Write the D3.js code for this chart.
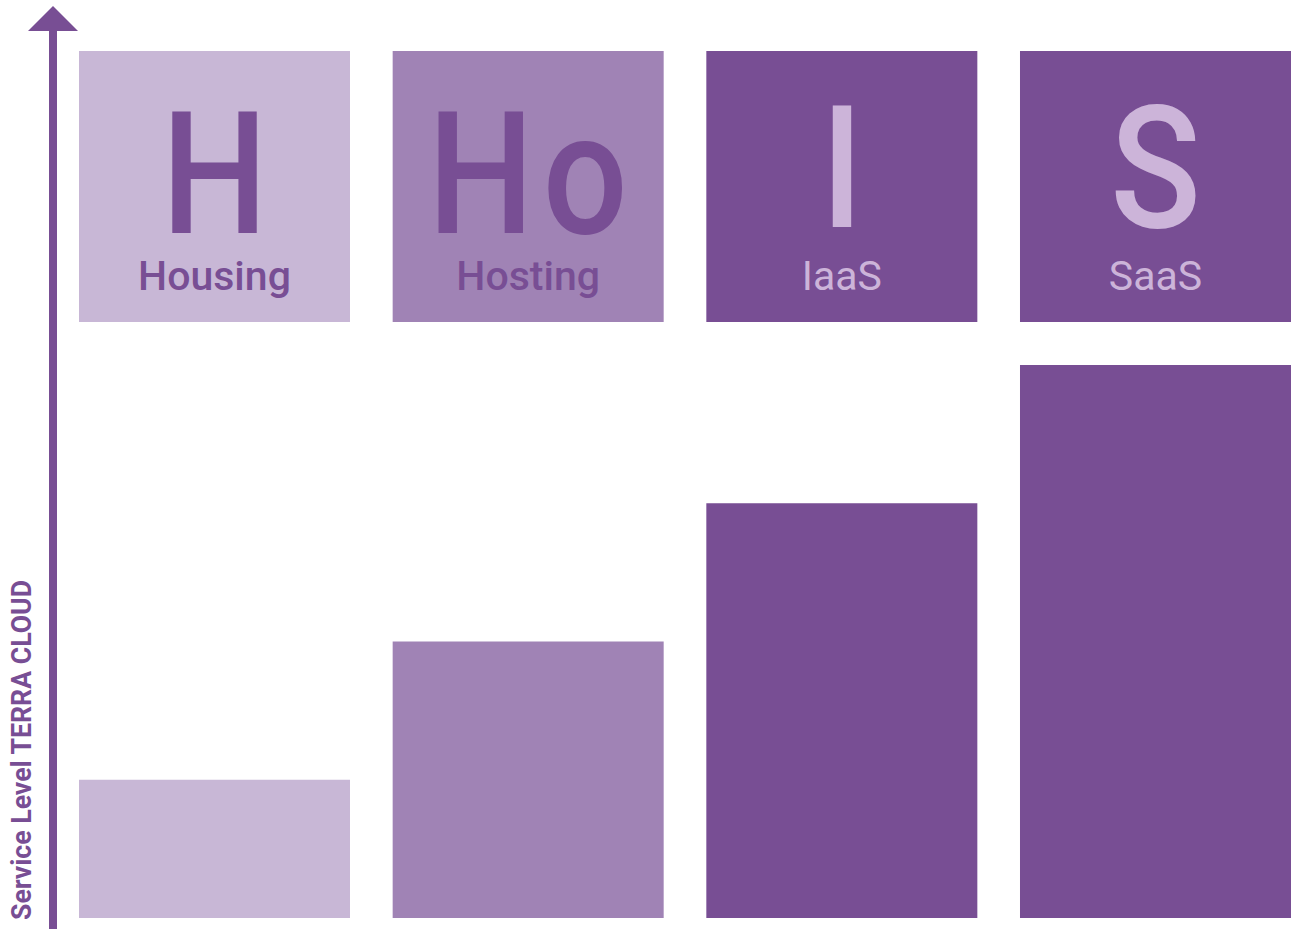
<!DOCTYPE html>
<html>
<head>
<meta charset="utf-8">
<script src="https://cdn.jsdelivr.net/npm/d3@7"></script>
<style>
  html, body { margin: 0; padding: 0; background: #fff; }
  svg { display: block; font-family: Roboto, "Open Sans", sans-serif; }
</style>
</head>
<body>
<svg id="chart"></svg>
<script>
const categories = ['Housing', 'Hosting', 'IaaS', 'SaaS'];
const initials = ['H', 'Ho', 'I', 'S'];
const serviceLevel = [1, 2, 3, 4];
const shades = ['light', 'medium', 'dark', 'dark'];
const axisTitle = ['Service Level ', 'TERRA CLOUD'];

const width = 1291;
const height = 929;
const margin = {top: 51, right: 0, bottom: 11, left: 79};
const tileSize = 271;

const palette = {light: '#c8b7d6', medium: '#a083b5', dark: '#784e94'};
const textColor = {light: '#784e94', medium: '#784e94', dark: '#ccb4d9'};

const data = categories.map((c, i) => ({
  name: c,
  initial: initials[i],
  value: serviceLevel[i],
  shade: shades[i]
}));

const svg = d3.select('#chart')
  .attr('width', width)
  .attr('height', height)
  .attr('viewBox', [0, 0, width, height]);

const x = d3.scaleBand()
  .domain(categories)
  .range([margin.left, width - margin.right])
  .paddingInner(0.136)
  .paddingOuter(0);

const y = d3.scaleLinear()
  .domain([0, 4])
  .range([height - margin.bottom, 365]);

// axis arrow
const axisX = 53;
const arrow = svg.append('g').attr('fill', palette.dark);
arrow.append('line')
  .attr('x1', axisX).attr('x2', axisX)
  .attr('y1', height).attr('y2', 30)
  .attr('stroke', palette.dark)
  .attr('stroke-width', 8);
arrow.append('path')
  .attr('d', d3.line()([[axisX, 6], [axisX + 25, 31], [axisX - 25, 31]]) + 'Z');

const title = svg.append('text')
  .attr('transform', `translate(31,${height - 9}) rotate(-90)`)
  .attr('fill', palette.dark)
  .attr('font-size', 28)
  .attr('font-weight', 700)
  .attr('textLength', 340)
  .attr('lengthAdjust', 'spacingAndGlyphs');
title.selectAll('tspan')
  .data(axisTitle)
  .join('tspan')
  .text(d => d);

// tiles
const tiles = svg.append('g')
  .selectAll('g')
  .data(data)
  .join('g')
  .attr('transform', d => `translate(${x(d.name)},${margin.top})`);

tiles.append('rect')
  .attr('width', x.bandwidth())
  .attr('height', tileSize)
  .attr('fill', d => palette[d.shade]);

// DIN-like narrow initials: squeeze Roboto a little
tiles.append('text')
  .attr('transform', d => `translate(${x.bandwidth() / 2 + (d.initial.length > 1 ? 4 : 0)},${d.shade === 'dark' ? 176 : 182}) scale(0.88,1)`)
  .attr('text-anchor', 'middle')
  .attr('font-size', 170)
  .attr('font-weight', 500)
  .attr('fill', d => textColor[d.shade])
  .style('letter-spacing', d => d.initial.length > 1 ? '10px' : '0px')
  .text(d => d.initial);

tiles.append('text')
  .attr('x', x.bandwidth() / 2)
  .attr('y', 239)
  .attr('text-anchor', 'middle')
  .attr('font-size', 41)
  .attr('font-weight', d => d.shade === 'dark' ? 400 : 500)
  .attr('fill', d => textColor[d.shade])
  .text(d => d.name);

// bars
svg.append('g')
  .selectAll('rect')
  .data(data)
  .join('rect')
  .attr('x', d => x(d.name))
  .attr('width', x.bandwidth())
  .attr('y', d => y(d.value))
  .attr('height', d => y(0) - y(d.value))
  .attr('fill', d => palette[d.shade]);
</script>
</body>
</html>
